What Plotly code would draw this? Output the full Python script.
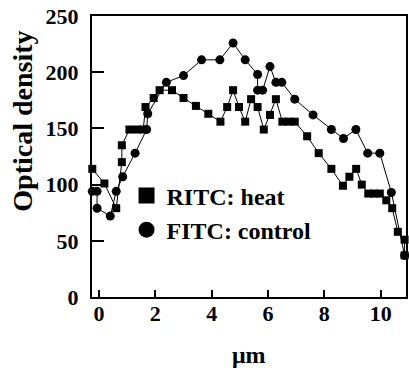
import plotly.graph_objects as go

# RITC: heat (squares)
heat_x = [-0.24, 0.19, 0.61, 0.81, 0.81, 1.08, 1.34, 1.57, 1.65, 1.94, 2.15, 2.59, 3.0, 3.44,
          3.88, 4.31, 4.55, 4.76, 4.97, 5.19, 5.40, 5.63, 5.85, 6.07, 6.28, 6.51, 6.72, 6.95,
          7.39, 7.80, 8.25, 8.66, 8.89, 9.13, 9.33, 9.56, 9.77, 9.97, 10.20, 10.41, 10.61,
          10.85, 10.85]
heat_y = [114, 101, 79, 120, 135, 149, 149, 149, 169, 177, 184, 184, 177, 170,
          163, 156, 169, 184, 169, 156, 176, 169, 149, 162, 176, 156, 156, 156,
          143, 128, 114, 99, 107, 114, 100, 92, 92, 92, 86, 79, 58,
          51, 37]

# FITC: control (circles)
ctrl_x = [-0.24, -0.07, -0.07, 0.40, 0.61, 0.84, 1.28, 1.69, 1.73, 2.39, 3.0, 3.64, 4.29,
          4.76, 5.19, 5.63, 5.63, 5.81, 6.07, 6.28, 6.49, 6.95, 7.6, 8.25, 8.68, 9.12,
          9.54, 9.97, 10.38, 10.85]
ctrl_y = [94, 94, 79, 72, 94, 107, 128, 149, 163, 191, 197, 211, 211,
          226, 211, 198, 184, 184, 205, 191, 191, 176, 162, 149, 141, 149,
          128, 128, 93, 37]

x_ticks = [0, 2, 4, 6, 8, 10]
y_ticks = [0, 50, 100, 150, 200, 250]

FONT = "Liberation Serif"

fig = go.Figure()
fig.add_trace(go.Scatter(x=ctrl_x, y=ctrl_y, mode="lines+markers", showlegend=False,
                         line=dict(color="black", width=1),
                         marker=dict(symbol="circle", size=9, color="black"),
                         cliponaxis=False))
fig.add_trace(go.Scatter(x=heat_x, y=heat_y, mode="lines+markers", showlegend=False,
                         line=dict(color="black", width=1),
                         marker=dict(symbol="square", size=8, color="black"),
                         cliponaxis=False))
# legend entries
fig.add_trace(go.Scatter(x=[None], y=[None], mode="markers", name="RITC: heat",
                         marker=dict(symbol="square", size=16, color="black")))
fig.add_trace(go.Scatter(x=[None], y=[None], mode="markers", name="FITC: control",
                         marker=dict(symbol="circle", size=16, color="black")))

fig.update_layout(
    width=409, height=371,
    margin=dict(l=92, r=1, t=16, b=74),
    paper_bgcolor="white", plot_bgcolor="white",
    font=dict(family=FONT, color="black"),
    showlegend=True,
    legend=dict(x=0.11, y=0.44, xanchor="left", yanchor="top",
                bgcolor="rgba(0,0,0,0)", borderwidth=0,
                font=dict(family=FONT, size=24, weight="bold", color="black"),
                itemsizing="trace", tracegroupgap=0),
    xaxis=dict(range=[-0.25, 10.9], tickvals=x_ticks, ticktext=[str(v) for v in x_ticks],
               ticks="inside", ticklen=7, tickwidth=1.5, tickcolor="black",
               showline=True, linewidth=2, linecolor="black", mirror=True,
               showgrid=False, zeroline=False,
               tickfont=dict(family=FONT, size=22, weight="bold", color="black"),
               ticklabelstandoff=-4),
    yaxis=dict(range=[0, 250], tickvals=y_ticks, ticktext=[str(v) for v in y_ticks],
               ticks="inside", ticklen=12, tickwidth=1.5, tickcolor="black",
               showline=True, linewidth=2, linecolor="black", mirror=True,
               showgrid=False, zeroline=False,
               tickfont=dict(family=FONT, size=22, weight="bold", color="black"),
               ticklabelstandoff=7),
    annotations=[
        dict(text="Optical density", xref="paper", yref="paper", x=-0.222, y=0.625,
             xanchor="center", yanchor="middle", textangle=-90, showarrow=False,
             font=dict(family=FONT, size=28, weight="bold", color="black")),
        dict(text="μm", xref="paper", yref="paper", x=0.5, y=-0.205,
             xanchor="center", yanchor="middle", showarrow=False,
             font=dict(family=FONT, size=24, weight="bold", color="black")),
    ],
)

fig.write_html("out.html")
